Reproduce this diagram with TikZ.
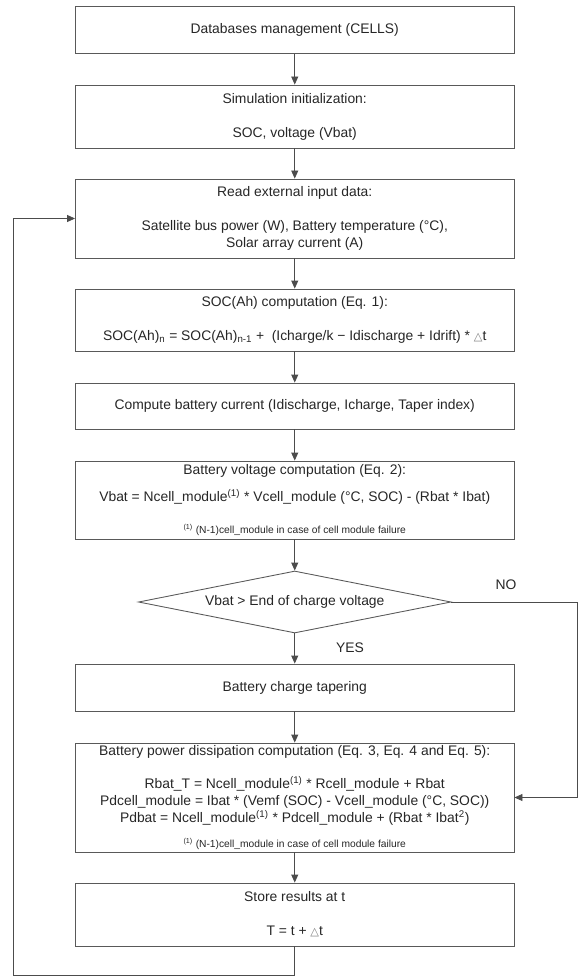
\documentclass[tikz,border=0pt]{standalone}
\usepackage{fontspec}
\setmainfont{Liberation Sans}
\newfontfamily\symfnt{DejaVu Sans}
\usepackage{tikz}
\usetikzlibrary{arrows.meta, positioning, shapes.geometric}
\newcommand{\dtstep}{{\symfnt\color{black!50}\fontsize{9}{10}\selectfont △}t}
\newcommand{\fnone}{\textsuperscript{(1)}}
\newcommand{\fnfail}{{\fontsize{8.2}{9}\selectfont\textsuperscript{(1)} (N-1)cell\_module in case of cell module failure}}

\begin{document}
\begin{tikzpicture}[x=0.8pt, y=-0.8pt, >={Triangle[length=6.4pt,width=5.6pt]}, line width=0.7pt,
  box/.style={draw=black!65, rectangle, minimum width=350.8pt, align=center, inner sep=2pt,
    font={\fontsize{11.1}{13.6}\selectfont}, text=black!85},
  test/.style={draw=black!65, diamond, aspect=5, minimum width=250pt, minimum height=49.6pt,
    inner sep=0pt, font={\fontsize{11.1}{13.6}\selectfont}, text=black!85},
  lbl/.style={font={\fontsize{11.1}{13.6}\selectfont}, text=black!85},
  arr/.style={->, draw=black!70}]
  \useasboundingbox (0,0) rectangle (579,977);
  % process boxes
  \node[box, minimum height=37.6pt] (cells) at (294.75,30) {Databases management (CELLS)};
  \node[box, minimum height=50.4pt] (init) at (294.75,116.5) {Simulation initialization:\\[13.6pt] SOC, voltage (Vbat)};
  \node[box, minimum height=63.2pt] (read) at (294.75,218.5) {Read external input data:\\[13.6pt]
    Satellite bus power (W), Battery temperature (°C),\\ Solar array current (A)};
  \node[box, minimum height=49.6pt] (soc) at (294.75,320) {SOC(Ah) computation (Eq. 1):\\[13.6pt]
    SOC(Ah)\textsubscript{n} = SOC(Ah)\textsubscript{n-1} +\ \ (Icharge/k − Idischarge + Idrift) * \dtstep};
  \node[box, minimum height=36.8pt] (current) at (294.75,406) {Compute battery current (Idischarge, Icharge, Taper index)};
  \node[box, minimum height=62.4pt] (volt) at (294.75,500) {Battery voltage computation (Eq. 2):\\[8pt]
    Vbat = Ncell\_module\fnone{} * Vcell\_module (°C, SOC) - (Rbat * Ibat)\\[12pt] \fnfail};
  \node[test] (test) at (294.75,602) {Vbat > End of charge voltage};
  \node[box, minimum height=37.6pt] (taper) at (294.75,687.5) {Battery charge tapering};
  \node[box, minimum height=87.2pt] (power) at (294.75,797.5) {Battery power dissipation computation (Eq. 3, Eq. 4 and Eq. 5):\\[12.8pt]
    Rbat\_T = Ncell\_module\fnone{} * Rcell\_module + Rbat\\
    Pdcell\_module = Ibat * (Vemf (SOC) - Vcell\_module (°C, SOC))\\
    Pdbat = Ncell\_module\fnone{} * Pdcell\_module + (Rbat * Ibat\textsuperscript{2})\\[6pt] \fnfail};
  \node[box, minimum height=50.4pt] (store) at (294.75,914.5) {Store results at t\\[13.6pt] T = t + \dtstep};
  % labels
  \node[lbl] (no) at (506,585) {NO};
  \node[lbl] (yes) at (350,648) {YES};
  % connectors
  \draw[arr] (cells.south) -- (init.north);
  \draw[arr] (init.south) -- (read.north);
  \draw[arr] (read.south) -- (soc.north);
  \draw[arr] (soc.south) -- (current.north);
  \draw[arr] (current.south) -- (volt.north);
  \draw[arr] (volt.south) -- (test.north);
  \draw[arr] (test.south) -- (taper.north);
  \draw[arr] (taper.south) -- (power.north);
  \draw[arr] (power.south) -- (store.north);
  \coordinate (nocorner) at (577,602);
  \draw[arr] (test.east) -- (nocorner) |- (power.east);
  \coordinate (loopcorner) at (13.3,975.5);
  \draw[arr] (store.south) |- (loopcorner) |- (read.west);
\end{tikzpicture}
\end{document}
